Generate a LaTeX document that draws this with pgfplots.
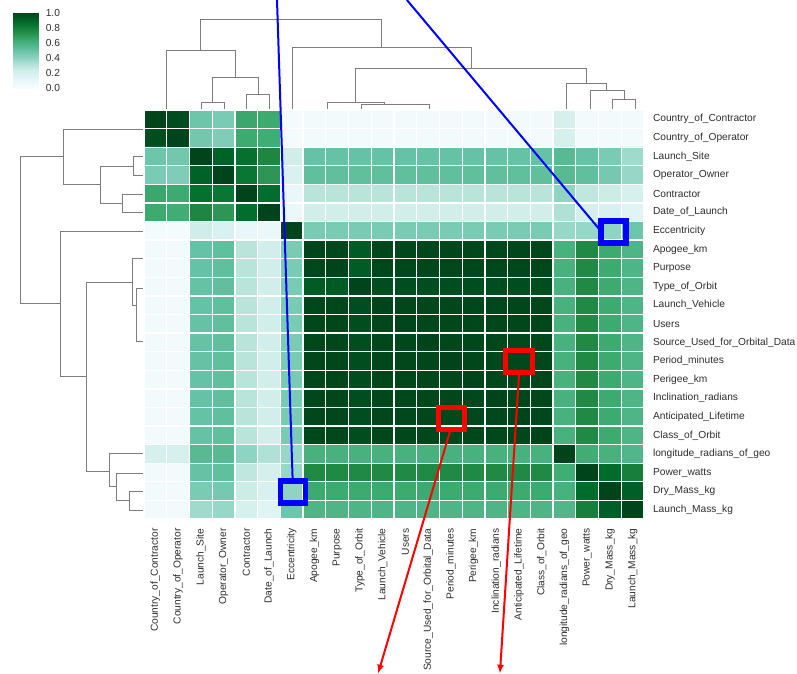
\documentclass[border=0pt]{standalone}
\usepackage{fontspec}
\setmainfont{Liberation Sans}
\usepackage{pgfplots}
\pgfplotsset{compat=1.18}
\usetikzlibrary{arrows.meta}
\pgfplotsset{colormap={bugn}{rgb255=(247,252,253) rgb255=(229,245,249) rgb255=(204,236,230) rgb255=(153,216,201) rgb255=(102,194,164) rgb255=(65,174,118) rgb255=(35,139,69) rgb255=(0,109,44) rgb255=(0,68,27)}}
\definecolor{dgray}{RGB}{125,125,125}
\definecolor{lblc}{RGB}{45,45,45}
\tikzset{dend/.style={draw=dgray, line width=0.9bp, mark=none}}
\newcommand{\lblfont}{\fontsize{10.2bp}{12bp}\selectfont}
\begin{document}
\begin{tikzpicture}
\useasboundingbox (0,0) rectangle (797bp,674bp);
% colour bar
\begin{axis}[at={(13.3bp,585.7bp)}, anchor=south west, width=25bp, height=75bp, scale only axis,
  xmin=0, xmax=1, ymin=0, ymax=1, enlargelimits=false, axis line style={draw=none},
  xtick=\empty, ytick={0,0.2,0.4,0.6,0.8,1}, yticklabel pos=right, major tick length=0pt,
  colormap name=bugn, point meta min=0, point meta max=1,
  yticklabel style={font=\lblfont, text=lblc, xshift=4bp, /pgf/number format/.cd, fixed, fixed zerofill, precision=1, assume math mode=true}]
\addplot[surf, shader=interp, mesh/cols=2, point meta=y] coordinates {(0,0) (1,0) (0,1) (1,1)};
\end{axis}
% top dendrogram
\begin{axis}[at={(144bp,564bp)}, anchor=south west, width=500bp, height=110bp, scale only axis,
  xmin=144, xmax=644, ymin=0, ymax=110, y dir=reverse, axis lines=none, clip=false]
\addplot[dend] coordinates {(201,110) (201,102) (224,102) (224,110)};
\addplot[dend] coordinates {(246.7,110) (246.7,94) (269.3,94) (269.3,110)};
\addplot[dend] coordinates {(212.5,102) (212.5,77.7) (258,77.7) (258,94)};
\addplot[dend] coordinates {(166,110) (166,50.7) (235.3,50.7) (235.3,77.7)};
\addplot[dend] coordinates {(327.3,110) (327.3,102.3) (384.3,102.3) (384.3,104.3)};
\addplot[dend] coordinates {(361,110) (361,104.3) (429.3,104.3) (429.3,110)};
\addplot[dend] coordinates {(355.5,102.3) (355.5,68.3) (586.5,68.3) (586.5,83.3)};
\addplot[dend] coordinates {(292.3,110) (292.3,47.7) (471,47.7) (471,68.3)};
\addplot[dend] coordinates {(200.7,50.7) (200.7,19) (381.7,19) (381.7,47.7)};
\addplot[dend] coordinates {(566.7,110) (566.7,83.3) (606,83.3) (606,90)};
\addplot[dend] coordinates {(590,110) (590,90) (624,90) (624,99.3)};
\addplot[dend] coordinates {(612.7,110) (612.7,99.3) (635.7,99.3) (635.7,110)};
\end{axis}
% left dendrogram
\begin{axis}[at={(0bp,155bp)}, anchor=south west, width=143bp, height=409bp, scale only axis,
  xmin=0, xmax=143, ymin=110, ymax=519, y dir=reverse, axis lines=none, clip=false]
\addplot[dend] coordinates {(143,156.7) (133.3,156.7) (133.3,175) (143,175)};
\addplot[dend] coordinates {(143,194.3) (122.3,194.3) (122.3,212.3) (143,212.3)};
\addplot[dend] coordinates {(133.3,166) (100,166) (100,203.3) (122.3,203.3)};
\addplot[dend] coordinates {(143,129) (63.3,129) (63.3,184) (100,184)};
\addplot[dend] coordinates {(63.3,156.7) (20,156.7) (20,303.3) (60,303.3)};
\addplot[dend] coordinates {(143,231.7) (60,231.7) (60,376) (86.7,376)};
\addplot[dend] coordinates {(132.7,282.3) (86.7,282.3) (86.7,471) (109.3,471)};
\addplot[dend] coordinates {(143,258.3) (132.7,258.3) (132.7,305) (136,305)};
\addplot[dend] coordinates {(143,288.3) (136,288.3) (136,341.7) (143,341.7)};
\addplot[dend] coordinates {(143,453.3) (109.3,453.3) (109.3,486.7) (116.7,486.7)};
\addplot[dend] coordinates {(143,473.3) (116.7,473.3) (116.7,500) (129.3,500)};
\addplot[dend] coordinates {(143,491.7) (129.3,491.7) (129.3,510) (143,510)};
\end{axis}
% heat map
\begin{axis}[at={(144bp,155bp)}, anchor=south west, width=500bp, height=409bp, scale only axis,
  xmin=-0.5, xmax=21.5, ymin=-0.5, ymax=21.5, y dir=reverse, enlargelimits=false, axis on top,
  axis line style={draw=none}, major tick length=0pt, minor tick length=0pt,
  xtick={0,...,21}, ytick={0,...,21}, yticklabel pos=right,
  minor xtick={-0.5,0.5,...,21.5}, minor ytick={-0.5,0.5,...,21.5},
  xminorgrids, yminorgrids, minor grid style={white, line width=1.3bp},
  colormap name=bugn, point meta min=0, point meta max=1,
  xticklabels={Country\_of\_Contractor, Country\_of\_Operator, Launch\_Site, Operator\_Owner, Contractor, Date\_of\_Launch, Eccentricity, Apogee\_km, Purpose, Type\_of\_Orbit, Launch\_Vehicle, Users, Source\_Used\_for\_Orbital\_Data, Period\_minutes, Perigee\_km, Inclination\_radians, Anticipated\_Lifetime, Class\_of\_Orbit, longitude\_radians\_of\_geo, Power\_watts, Dry\_Mass\_kg, Launch\_Mass\_kg},
  yticklabels={Country\_of\_Contractor, Country\_of\_Operator, Launch\_Site, Operator\_Owner, Contractor, Date\_of\_Launch, Eccentricity, Apogee\_km, Purpose, Type\_of\_Orbit, Launch\_Vehicle, Users, Source\_Used\_for\_Orbital\_Data, Period\_minutes, Perigee\_km, Inclination\_radians, Anticipated\_Lifetime, Class\_of\_Orbit, longitude\_radians\_of\_geo, Power\_watts, Dry\_Mass\_kg, Launch\_Mass\_kg},
  xticklabel style={yshift=-6bp, rotate=90, anchor=east, font=\lblfont, text=lblc},
  yticklabel style={anchor=west, xshift=5.5bp, font=\lblfont, text=lblc}]
\addplot[matrix plot*, mesh/cols=22, point meta=explicit] coordinates {
(0,0)[1.00] (1,0)[0.97] (2,0)[0.48] (3,0)[0.45] (4,0)[0.65] (5,0)[0.64] (6,0)[0.02] (7,0)[0.03] (8,0)[0.03] (9,0)[0.03] (10,0)[0.03] (11,0)[0.03] (12,0)[0.03] (13,0)[0.03] (14,0)[0.03] (15,0)[0.03] (16,0)[0.03] (17,0)[0.03] (18,0)[0.20] (19,0)[0.03] (20,0)[0.03] (21,0)[0.03]
(0,1)[0.97] (1,1)[1.00] (2,1)[0.47] (3,1)[0.44] (4,1)[0.64] (5,1)[0.63] (6,1)[0.02] (7,1)[0.03] (8,1)[0.03] (9,1)[0.03] (10,1)[0.03] (11,1)[0.03] (12,1)[0.03] (13,1)[0.03] (14,1)[0.03] (15,1)[0.03] (16,1)[0.03] (17,1)[0.03] (18,1)[0.20] (19,1)[0.03] (20,1)[0.03] (21,1)[0.03]
(0,2)[0.48] (1,2)[0.47] (2,2)[1.00] (3,2)[0.91] (4,2)[0.86] (5,2)[0.77] (6,2)[0.23] (7,2)[0.50] (8,2)[0.50] (9,2)[0.50] (10,2)[0.50] (11,2)[0.50] (12,2)[0.50] (13,2)[0.50] (14,2)[0.50] (15,2)[0.50] (16,2)[0.50] (17,2)[0.50] (18,2)[0.55] (19,2)[0.50] (20,2)[0.45] (21,2)[0.36]
(0,3)[0.45] (1,3)[0.44] (2,3)[0.91] (3,3)[1.00] (4,3)[0.84] (5,3)[0.71] (6,3)[0.18] (7,3)[0.52] (8,3)[0.52] (9,3)[0.52] (10,3)[0.52] (11,3)[0.52] (12,3)[0.52] (13,3)[0.52] (14,3)[0.52] (15,3)[0.52] (16,3)[0.52] (17,3)[0.52] (18,3)[0.55] (19,3)[0.52] (20,3)[0.46] (21,3)[0.38]
(0,4)[0.65] (1,4)[0.64] (2,4)[0.86] (3,4)[0.84] (4,4)[1.00] (5,4)[0.87] (6,4)[0.10] (7,4)[0.30] (8,4)[0.30] (9,4)[0.30] (10,4)[0.30] (11,4)[0.30] (12,4)[0.30] (13,4)[0.30] (14,4)[0.30] (15,4)[0.30] (16,4)[0.30] (17,4)[0.30] (18,4)[0.40] (19,4)[0.28] (20,4)[0.25] (21,4)[0.20]
(0,5)[0.64] (1,5)[0.63] (2,5)[0.77] (3,5)[0.71] (4,5)[0.87] (5,5)[1.00] (6,5)[0.08] (7,5)[0.22] (8,5)[0.22] (9,5)[0.22] (10,5)[0.22] (11,5)[0.22] (12,5)[0.22] (13,5)[0.22] (14,5)[0.22] (15,5)[0.22] (16,5)[0.22] (17,5)[0.22] (18,5)[0.32] (19,5)[0.21] (20,5)[0.19] (21,5)[0.15]
(0,6)[0.02] (1,6)[0.02] (2,6)[0.23] (3,6)[0.18] (4,6)[0.10] (5,6)[0.08] (6,6)[1.00] (7,6)[0.45] (8,6)[0.45] (9,6)[0.45] (10,6)[0.45] (11,6)[0.45] (12,6)[0.45] (13,6)[0.45] (14,6)[0.45] (15,6)[0.45] (16,6)[0.45] (17,6)[0.45] (18,6)[0.38] (19,6)[0.38] (20,6)[0.40] (21,6)[0.48]
(0,7)[0.03] (1,7)[0.03] (2,7)[0.50] (3,7)[0.52] (4,7)[0.30] (5,7)[0.22] (6,7)[0.45] (7,7)[1.00] (8,7)[0.99] (9,7)[0.93] (10,7)[0.99] (11,7)[0.99] (12,7)[0.99] (13,7)[0.99] (14,7)[0.99] (15,7)[0.99] (16,7)[0.99] (17,7)[0.99] (18,7)[0.60] (19,7)[0.76] (20,7)[0.64] (21,7)[0.58]
(0,8)[0.03] (1,8)[0.03] (2,8)[0.50] (3,8)[0.52] (4,8)[0.30] (5,8)[0.22] (6,8)[0.45] (7,8)[0.99] (8,8)[1.00] (9,8)[0.93] (10,8)[0.99] (11,8)[0.99] (12,8)[0.99] (13,8)[0.99] (14,8)[0.99] (15,8)[0.99] (16,8)[0.99] (17,8)[0.99] (18,8)[0.60] (19,8)[0.76] (20,8)[0.64] (21,8)[0.58]
(0,9)[0.03] (1,9)[0.03] (2,9)[0.50] (3,9)[0.52] (4,9)[0.30] (5,9)[0.22] (6,9)[0.45] (7,9)[0.93] (8,9)[0.93] (9,9)[1.00] (10,9)[0.97] (11,9)[0.97] (12,9)[0.97] (13,9)[0.97] (14,9)[0.97] (15,9)[0.97] (16,9)[0.97] (17,9)[0.97] (18,9)[0.60] (19,9)[0.76] (20,9)[0.64] (21,9)[0.58]
(0,10)[0.03] (1,10)[0.03] (2,10)[0.50] (3,10)[0.52] (4,10)[0.30] (5,10)[0.22] (6,10)[0.45] (7,10)[0.99] (8,10)[0.99] (9,10)[0.97] (10,10)[1.00] (11,10)[0.99] (12,10)[0.99] (13,10)[0.99] (14,10)[0.99] (15,10)[0.99] (16,10)[0.99] (17,10)[0.99] (18,10)[0.60] (19,10)[0.76] (20,10)[0.64] (21,10)[0.58]
(0,11)[0.03] (1,11)[0.03] (2,11)[0.50] (3,11)[0.52] (4,11)[0.30] (5,11)[0.22] (6,11)[0.45] (7,11)[0.99] (8,11)[0.99] (9,11)[0.97] (10,11)[0.99] (11,11)[1.00] (12,11)[0.99] (13,11)[0.99] (14,11)[0.99] (15,11)[0.99] (16,11)[0.99] (17,11)[0.99] (18,11)[0.60] (19,11)[0.76] (20,11)[0.64] (21,11)[0.58]
(0,12)[0.03] (1,12)[0.03] (2,12)[0.50] (3,12)[0.52] (4,12)[0.30] (5,12)[0.22] (6,12)[0.45] (7,12)[0.99] (8,12)[0.99] (9,12)[0.97] (10,12)[0.99] (11,12)[0.99] (12,12)[1.00] (13,12)[0.99] (14,12)[0.99] (15,12)[0.99] (16,12)[0.99] (17,12)[0.99] (18,12)[0.60] (19,12)[0.76] (20,12)[0.64] (21,12)[0.58]
(0,13)[0.03] (1,13)[0.03] (2,13)[0.50] (3,13)[0.52] (4,13)[0.30] (5,13)[0.22] (6,13)[0.45] (7,13)[0.99] (8,13)[0.99] (9,13)[0.97] (10,13)[0.99] (11,13)[0.99] (12,13)[0.99] (13,13)[1.00] (14,13)[0.99] (15,13)[0.99] (16,13)[0.99] (17,13)[0.99] (18,13)[0.60] (19,13)[0.76] (20,13)[0.64] (21,13)[0.58]
(0,14)[0.03] (1,14)[0.03] (2,14)[0.50] (3,14)[0.52] (4,14)[0.30] (5,14)[0.22] (6,14)[0.45] (7,14)[0.99] (8,14)[0.99] (9,14)[0.97] (10,14)[0.99] (11,14)[0.99] (12,14)[0.99] (13,14)[0.99] (14,14)[1.00] (15,14)[0.99] (16,14)[0.99] (17,14)[0.99] (18,14)[0.60] (19,14)[0.76] (20,14)[0.64] (21,14)[0.58]
(0,15)[0.03] (1,15)[0.03] (2,15)[0.50] (3,15)[0.52] (4,15)[0.30] (5,15)[0.22] (6,15)[0.45] (7,15)[0.99] (8,15)[0.99] (9,15)[0.97] (10,15)[0.99] (11,15)[0.99] (12,15)[0.99] (13,15)[0.99] (14,15)[0.99] (15,15)[1.00] (16,15)[0.99] (17,15)[0.99] (18,15)[0.60] (19,15)[0.76] (20,15)[0.64] (21,15)[0.58]
(0,16)[0.03] (1,16)[0.03] (2,16)[0.50] (3,16)[0.52] (4,16)[0.30] (5,16)[0.22] (6,16)[0.45] (7,16)[0.99] (8,16)[0.99] (9,16)[0.97] (10,16)[0.99] (11,16)[0.99] (12,16)[0.99] (13,16)[0.99] (14,16)[0.99] (15,16)[0.99] (16,16)[1.00] (17,16)[0.99] (18,16)[0.60] (19,16)[0.76] (20,16)[0.64] (21,16)[0.58]
(0,17)[0.03] (1,17)[0.03] (2,17)[0.50] (3,17)[0.52] (4,17)[0.30] (5,17)[0.22] (6,17)[0.45] (7,17)[0.99] (8,17)[0.99] (9,17)[0.97] (10,17)[0.99] (11,17)[0.99] (12,17)[0.99] (13,17)[0.99] (14,17)[0.99] (15,17)[0.99] (16,17)[0.99] (17,17)[1.00] (18,17)[0.60] (19,17)[0.76] (20,17)[0.64] (21,17)[0.58]
(0,18)[0.20] (1,18)[0.20] (2,18)[0.55] (3,18)[0.55] (4,18)[0.40] (5,18)[0.32] (6,18)[0.38] (7,18)[0.60] (8,18)[0.60] (9,18)[0.60] (10,18)[0.60] (11,18)[0.60] (12,18)[0.60] (13,18)[0.60] (14,18)[0.60] (15,18)[0.60] (16,18)[0.60] (17,18)[0.60] (18,18)[1.00] (19,18)[0.63] (20,18)[0.60] (21,18)[0.57]
(0,19)[0.03] (1,19)[0.03] (2,19)[0.50] (3,19)[0.52] (4,19)[0.28] (5,19)[0.21] (6,19)[0.38] (7,19)[0.76] (8,19)[0.76] (9,19)[0.76] (10,19)[0.76] (11,19)[0.76] (12,19)[0.76] (13,19)[0.76] (14,19)[0.76] (15,19)[0.76] (16,19)[0.76] (17,19)[0.76] (18,19)[0.63] (19,19)[1.00] (20,19)[0.88] (21,19)[0.80]
(0,20)[0.03] (1,20)[0.03] (2,20)[0.45] (3,20)[0.46] (4,20)[0.25] (5,20)[0.19] (6,20)[0.40] (7,20)[0.64] (8,20)[0.64] (9,20)[0.64] (10,20)[0.64] (11,20)[0.64] (12,20)[0.64] (13,20)[0.64] (14,20)[0.64] (15,20)[0.64] (16,20)[0.64] (17,20)[0.64] (18,20)[0.60] (19,20)[0.88] (20,20)[1.00] (21,20)[0.92]
(0,21)[0.03] (1,21)[0.03] (2,21)[0.36] (3,21)[0.38] (4,21)[0.20] (5,21)[0.15] (6,21)[0.48] (7,21)[0.58] (8,21)[0.58] (9,21)[0.58] (10,21)[0.58] (11,21)[0.58] (12,21)[0.58] (13,21)[0.58] (14,21)[0.58] (15,21)[0.58] (16,21)[0.58] (17,21)[0.58] (18,21)[0.57] (19,21)[0.80] (20,21)[0.92] (21,21)[1.00]
};
\end{axis}
% annotations
\begin{axis}[at={(144bp,155bp)}, anchor=south west, width=500bp, height=409bp, scale only axis,
  xmin=-0.5, xmax=21.5, ymin=-0.5, ymax=21.5, y dir=reverse, hide axis, clip=false]
\draw[blue, line width=2bp] (axis cs:5.352,-6.414) -- (axis cs:6.04,19.39);
\draw[blue, line width=2bp] (axis cs:11.07,-6.414) -- (axis cs:19.56,5.95);
\draw[blue, line width=5.5bp] (axis cs:5.50,19.45) rectangle (axis cs:6.60,20.63);
\draw[blue, line width=5.5bp] (axis cs:19.61,5.47) rectangle (axis cs:20.71,6.65);
\draw[red, line width=2bp, -{Latex[length=9bp,width=7bp]}] (axis cs:13.01,16.6) -- (axis cs:9.796,29.82);
\draw[red, line width=2bp, -{Latex[length=9bp,width=7bp]}] (axis cs:16.0,13.75) -- (axis cs:15.16,29.82);
\draw[red, line width=5bp] (axis cs:12.45,15.5) rectangle (axis cs:13.62,16.68);
\draw[red, line width=5bp] (axis cs:15.42,12.42) rectangle (axis cs:16.58,13.6);
\end{axis}
\end{tikzpicture}
\end{document}
